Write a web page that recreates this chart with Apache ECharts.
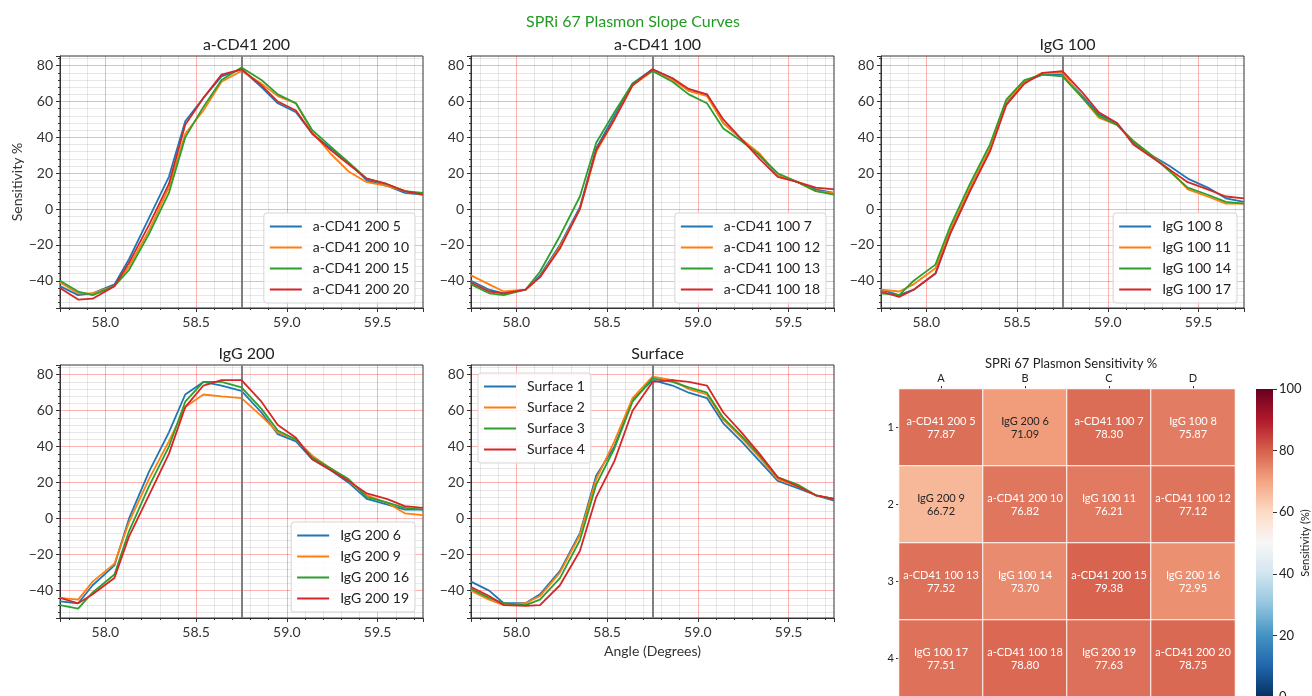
<!DOCTYPE html>
<html>
<head>
<meta charset="utf-8">
<script src="https://cdn.jsdelivr.net/npm/echarts@6/dist/echarts.min.js"></script>
<style>
html,body{margin:0;padding:0;background:#fff;}
#chart{width:1312px;height:696px;}
</style>
</head>
<body>
<div id="chart"></div>
<script>
// ---------- DATA ----------
const angles = [57.75, 57.85, 57.93, 58.05, 58.13, 58.24, 58.35, 58.44, 58.54, 58.64, 58.75, 58.86, 58.95, 59.05, 59.14, 59.24, 59.34, 59.44, 59.55, 59.65, 59.75];
const peakAngle = 58.75;

const cd41_200_names = ['a-CD41 200 5', 'a-CD41 200 10', 'a-CD41 200 15', 'a-CD41 200 20'];
const cd41_200_5  = [-43, -48, -47, -42, -28, -5, 18, 49, 62, 74, 78, 68, 59, 54, 42, 34, 26, 16, 13, 9, 8];
const cd41_200_10 = [-41, -47, -47, -43, -32, -12, 12, 42, 55, 71, 77, 70, 63, 59, 43, 31, 21, 15, 13, 10, 8];
const cd41_200_15 = [-40, -46, -48, -43, -34, -14, 9, 40, 57, 72, 79, 72, 64, 59, 44, 35, 26, 17, 14, 10, 9];
const cd41_200_20 = [-44, -50.5, -50, -43, -30, -9, 14, 47, 62, 75, 78, 69, 60, 55, 42, 33, 25, 17, 14, 10, 8];

const cd41_100_names = ['a-CD41 100 7', 'a-CD41 100 12', 'a-CD41 100 13', 'a-CD41 100 18'];
const cd41_100_7  = [-40, -45, -47, -45, -37, -20, 1, 34, 52, 70, 78, 73, 66, 64, 48, 39, 30, 19, 15, 11, 9];
const cd41_100_12 = [-37, -42, -46, -45, -38, -21, 0, 32, 50, 69, 77, 72, 66, 63, 48, 39, 31, 19, 15, 10, 9];
const cd41_100_13 = [-42, -47, -48, -45, -35, -15, 7, 37, 54, 70, 77, 71, 64, 59, 45, 38, 30, 20, 15, 10, 8];
const cd41_100_18 = [-41, -46, -47, -45, -38, -22, 0, 33, 50, 69, 78, 73, 67, 64, 50, 39, 28, 18, 15, 12, 11];

const igg_100_names = ['IgG 100 8', 'IgG 100 11', 'IgG 100 14', 'IgG 100 17'];
const igg_100_8  = [-45, -48, -45, -36, -14, 10, 33, 59, 71, 75, 75, 63, 53, 48, 37, 30, 24, 17, 12, 6, 4];
const igg_100_11 = [-45, -46, -42, -33, -12, 12, 34, 60, 71, 76, 76, 62, 51, 47, 38, 30, 22, 11, 7, 3, 3];
const igg_100_14 = [-47, -48, -40, -31, -10, 14, 36, 61, 72, 75, 74, 62, 52, 47, 38, 30, 21, 12, 8, 4, 3];
const igg_100_17 = [-46, -49, -45, -36, -14, 10, 32, 58, 70, 76, 77, 65, 54, 48, 36, 29, 22, 15, 11, 7, 6];

const igg_200_names = ['IgG 200 6', 'IgG 200 9', 'IgG 200 16', 'IgG 200 19'];
const igg_200_6  = [-46, -47, -37, -26, 0, 26, 48, 69, 76, 74, 71, 59, 47, 43, 33, 27, 20, 11, 8, 5, 5];
const igg_200_9  = [-44, -45, -35, -25, -2, 22, 43, 62, 69, 68, 67, 57, 48, 44, 35, 28, 21, 13, 9, 3, 2];
const igg_200_16 = [-48, -50, -41, -31, -7, 18, 40, 65, 76, 76, 73, 61, 49, 44, 34, 28, 22, 12, 9, 6, 5];
const igg_200_19 = [-44, -47, -42, -33, -10, 13, 36, 62, 74, 77, 77, 65, 52, 45, 33, 27, 21, 14, 11, 7, 6];

const surface_names = ['Surface 1', 'Surface 2', 'Surface 3', 'Surface 4'];
const surface_1 = [-35, -40, -47, -47, -42, -29, -8, 24, 40, 66, 77, 74, 70, 67, 53, 43, 32, 21, 17, 13, 10];
const surface_2 = [-40, -45, -48, -47, -43, -30, -9, 22, 43, 67, 79, 77, 72, 69, 55, 45, 34, 22, 18, 13, 11];
const surface_3 = [-39, -44, -47, -48, -45, -33, -12, 19, 39, 65, 78, 76, 73, 70, 56, 46, 35, 23, 19, 13, 11];
const surface_4 = [-38, -43, -48, -48.5, -48, -37, -18, 12, 32, 60, 76, 77, 76, 74, 59, 48, 36, 23, 18, 13, 11];

const panelTitles = ['a-CD41 200', 'a-CD41 100', 'IgG 100', 'IgG 200', 'Surface'];

const heatCols = ['A', 'B', 'C', 'D'];
const heatRows = ['1', '2', '3', '4'];
const heatNames = [
  ['a-CD41 200 5', 'IgG 200 6', 'a-CD41 100 7', 'IgG 100 8'],
  ['IgG 200 9', 'a-CD41 200 10', 'IgG 100 11', 'a-CD41 100 12'],
  ['a-CD41 100 13', 'IgG 100 14', 'a-CD41 200 15', 'IgG 200 16'],
  ['IgG 100 17', 'a-CD41 100 18', 'IgG 200 19', 'a-CD41 200 20']
];
const heatValues = [
  [77.87, 71.09, 78.30, 75.87],
  [66.72, 76.82, 76.21, 77.12],
  [77.52, 73.70, 79.38, 72.95],
  [77.51, 78.80, 77.63, 78.75]
];
const cbarRange = [0, 100];
const cbarLabel = 'Sensitivity (%)';
const rdbuR = ['#053061', '#2166ac', '#4393c3', '#92c5de', '#d1e5f0', '#f7f7f7', '#fddbc7', '#f4a582', '#d6604d', '#b2182b', '#67001f'];

// ---------- BUILD ----------
const FONT = 'Lato, "Open Sans", sans-serif';
const lineColors = ['#1f77b4', '#ff7f0e', '#2ca02c', '#d62728'];
const panels = [
  { names: cd41_200_names, data: [cd41_200_5, cd41_200_10, cd41_200_15, cd41_200_20] },
  { names: cd41_100_names, data: [cd41_100_7, cd41_100_12, cd41_100_13, cd41_100_18] },
  { names: igg_100_names, data: [igg_100_8, igg_100_11, igg_100_14, igg_100_17] },
  { names: igg_200_names, data: [igg_200_6, igg_200_9, igg_200_16, igg_200_19] },
  { names: surface_names, data: [surface_1, surface_2, surface_3, surface_4] }
];
const gridBoxes = [
  { left: 60, top: 56, width: 363, height: 252 },
  { left: 471, top: 56, width: 363, height: 252 },
  { left: 881, top: 56, width: 363, height: 252 },
  { left: 60, top: 365, width: 363, height: 253 },
  { left: 471, top: 365, width: 363, height: 253 }
];
const legendPos = [
  { right: 897, top: 213 },
  { right: 486, top: 213 },
  { right: 75, top: 213 },
  { right: 897, top: 522 },
  { left: 478, top: 373 }
];

const grids = [], xAxes = [], yAxes = [], series = [], legends = [], titles = [];

titles.push({
  text: 'SPRi 67 Plasmon Slope Curves', left: 628, top: 9, textAlign: 'center',
  textStyle: { color: '#239b23', fontSize: 16, fontWeight: 'normal', fontFamily: FONT }
});

const minusFmt = v => String(v).replace('-', '\u2212');
const majorGrid = { show: true, showMinLine: false, showMaxLine: false, lineStyle: { color: 'rgba(255,0,0,0.3)', width: 1 } };
const minorGrid = { show: true, lineStyle: { color: 'rgba(0,0,0,0.09)', width: 1 } };

panels.forEach((p, i) => {
  const g = gridBoxes[i];
  grids.push(Object.assign({ show: true, borderColor: '#333', borderWidth: 1, backgroundColor: 'transparent', outerBoundsMode: 'none' }, g));
  titles.push({
    text: panelTitles[i], left: g.left + g.width / 2, top: g.top - 24, textAlign: 'center',
    textStyle: { color: '#222', fontSize: 16, fontWeight: 'normal', fontFamily: FONT }
  });
  xAxes.push({
    type: 'value', gridIndex: i, min: 'dataMin', max: 'dataMax', splitNumber: 4,
    name: i === 4 ? 'Angle (Degrees)' : '', nameLocation: 'middle', nameGap: 26,
    nameTextStyle: { fontSize: 14, color: '#333', fontFamily: FONT },
    axisLine: { show: true, onZero: false, lineStyle: { color: '#333' } },
    axisTick: { show: true, length: 4, lineStyle: { color: '#333' } },
    minorTick: { show: true, splitNumber: 5, length: 2, lineStyle: { color: '#333' } },
    axisLabel: { show: true, fontSize: 14, color: '#333', fontFamily: FONT, margin: 7,
      showMinLabel: false, showMaxLabel: false, formatter: v => v.toFixed(1) },
    splitLine: majorGrid,
    minorSplitLine: minorGrid
  });
  yAxes.push({
    type: 'value', gridIndex: i, min: -55.2, max: 85.4, splitNumber: 7,
    name: i === 0 ? 'Sensitivity %' : '', nameLocation: 'middle', nameGap: 36,
    nameTextStyle: { fontSize: 14, color: '#333', fontFamily: FONT },
    axisLine: { show: true, onZero: false, lineStyle: { color: '#333' } },
    axisTick: { show: true, length: 4, lineStyle: { color: '#333' } },
    minorTick: { show: true, splitNumber: 5, length: 2, lineStyle: { color: '#333' } },
    axisLabel: { show: true, fontSize: 14, color: '#333', fontFamily: FONT, margin: 7,
      showMinLabel: false, showMaxLabel: false, formatter: minusFmt },
    splitLine: majorGrid,
    minorSplitLine: minorGrid
  });
  p.names.forEach((name, k) => {
    const s = {
      type: 'line', name: name, xAxisIndex: i, yAxisIndex: i,
      data: angles.map((a, j) => [a, p.data[k][j]]),
      symbol: 'none', smooth: false, clip: true,
      lineStyle: { width: 1.8, color: lineColors[k] }, itemStyle: { color: lineColors[k] },
      z: 3 + k
    };
    if (k === 0) {
      s.markLine = {
        silent: true, symbol: ['none', 'none'], label: { show: false },
        lineStyle: { color: '#7f7f7f', width: 2, type: 'solid' },
        data: [{ xAxis: peakAngle }]
      };
    }
    series.push(s);
  });
  legends.push(Object.assign({
    data: p.names, orient: 'vertical', icon: 'rect', itemWidth: 32, itemHeight: 2, itemGap: 6,
    backgroundColor: 'rgba(255,255,255,0.85)', borderColor: '#d5d5d5', borderWidth: 1, borderRadius: 3,
    padding: [6, 6, 6, 6], selectedMode: false,
    textStyle: { fontSize: 14, color: '#222', fontFamily: FONT, lineHeight: 15, padding: [0, 0, 0, 6] }
  }, legendPos[i]));
});

// heatmap
const hIdx = panels.length;
grids.push({ left: 899, top: 389, width: 336, height: 308, outerBoundsMode: 'none' });
titles.push({
  text: 'SPRi 67 Plasmon Sensitivity %', left: 1066, top: 352, textAlign: 'center',
  textStyle: { color: '#222', fontSize: 13, fontWeight: 'normal', fontFamily: FONT }
});
xAxes.push({
  type: 'category', gridIndex: hIdx, data: heatCols, position: 'top',
  axisLine: { show: false }, axisTick: { show: true, alignWithLabel: true, length: 3, lineStyle: { color: '#333' } },
  axisLabel: { fontSize: 11, color: '#222', fontFamily: FONT, margin: 5 }, splitLine: { show: false }
});
yAxes.push({
  type: 'category', gridIndex: hIdx, data: heatRows, inverse: true,
  axisLine: { show: false }, axisTick: { show: true, alignWithLabel: true, length: 3, lineStyle: { color: '#333' } },
  axisLabel: { fontSize: 11, color: '#222', fontFamily: FONT, margin: 5 }, splitLine: { show: false }
});
const heatData = [];
heatRows.forEach((r, ri) => heatCols.forEach((c, ci) => {
  const v = heatValues[ri][ci];
  heatData.push({ name: heatNames[ri][ci], value: [ci, ri, v], label: { color: v < 72 ? '#262626' : '#ffffff' } });
}));
series.push({
  type: 'heatmap', xAxisIndex: hIdx, yAxisIndex: hIdx, data: heatData,
  itemStyle: { borderColor: '#ffffff', borderWidth: 1 },
  label: { show: true, fontSize: 11, fontFamily: FONT, lineHeight: 13,
    formatter: q => q.name + '\n' + q.value[2].toFixed(2) }
});

// colorbar
const cIdx = hIdx + 1;
const cbarBox = { left: 1256, top: 389, width: 17, height: 308 };
grids.push(Object.assign({ outerBoundsMode: 'none' }, cbarBox));
xAxes.push({ type: 'category', gridIndex: cIdx, data: [''], show: false });
yAxes.push({
  type: 'value', gridIndex: cIdx, min: cbarRange[0], max: cbarRange[1], interval: 20, position: 'right',
  axisLine: { show: false }, axisTick: { show: true, length: 4, lineStyle: { color: '#333' } },
  axisLabel: { fontSize: 13, color: '#222', fontFamily: FONT, margin: 6 }, splitLine: { show: false }
});
series.push({
  type: 'bar', xAxisIndex: cIdx, yAxisIndex: cIdx, data: [cbarRange[1]], barWidth: '100%', silent: true,
  itemStyle: { color: new echarts.graphic.LinearGradient(0, 1, 0, 0,
    rdbuR.map((c, k) => ({ offset: k / (rdbuR.length - 1), color: c }))) }
});

const chart = echarts.init(document.getElementById('chart'), null, { renderer: 'canvas' });
chart.setOption({
  animation: false,
  backgroundColor: '#ffffff',
  title: titles,
  grid: grids,
  xAxis: xAxes,
  yAxis: yAxes,
  legend: legends,
  graphic: [{
    type: 'text', x: 1305, y: cbarBox.top + cbarBox.height / 2, rotation: Math.PI / 2,
    style: { text: cbarLabel, fill: '#222', font: '11px ' + FONT, textAlign: 'center', textVerticalAlign: 'middle' }
  }],
  visualMap: [{
    show: false, type: 'continuous', seriesIndex: series.length - 2,
    min: cbarRange[0], max: cbarRange[1], dimension: 2, inRange: { color: rdbuR }
  }],
  series: series
});
</script>
</body>
</html>
